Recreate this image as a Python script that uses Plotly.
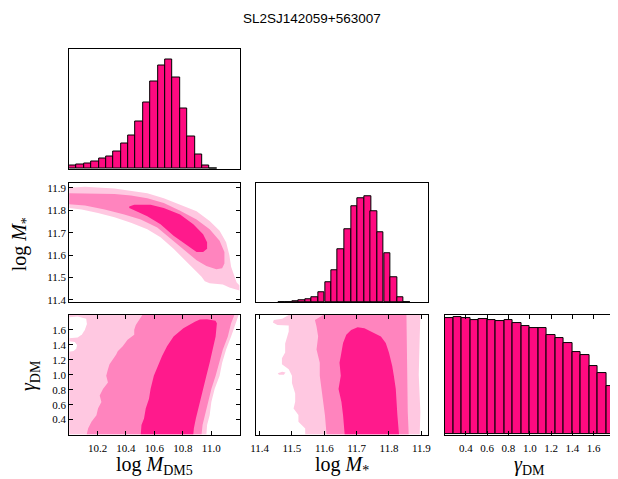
import plotly.graph_objects as go

TITLE = "SL2SJ142059+563007"

# ---------------- 1D histograms (bin centers, counts) ----------------
mdm_centers = [10.026, 10.078, 10.130, 10.182, 10.234, 10.286, 10.338, 10.390, 10.442, 10.494,
               10.546, 10.598, 10.650, 10.702, 10.754, 10.806, 10.858, 10.910, 10.962, 11.014]
mdm_counts = [9, 15, 18, 24, 31, 39, 53, 77, 103, 143, 202, 267, 315, 333, 279, 185, 98, 45, 11, 2]
mdm_binw = 0.052

mstar_centers = [11.469, 11.490, 11.510, 11.530, 11.551, 11.571, 11.591, 11.612, 11.632, 11.652,
                 11.673, 11.693, 11.713, 11.734, 11.754, 11.774, 11.795, 11.815, 11.835, 11.856]
mstar_counts = [1, 1, 3, 5, 8, 15, 30, 61, 99, 162, 224, 295, 319, 326, 279, 215, 150, 76, 14, 1]
mstar_binw = 0.0203

gam_centers = [0.24, 0.32, 0.40, 0.48, 0.56, 0.64, 0.72, 0.80, 0.88, 0.96,
               1.04, 1.12, 1.20, 1.28, 1.36, 1.44, 1.52, 1.60, 1.68, 1.76]
gam_counts = [357, 360, 357, 352, 354, 352, 349, 351, 340, 333, 325, 325, 306, 296, 279, 252, 243, 211, 187, 147]
gam_binw = 0.08

# ---------------- axis ranges & ticks ----------------
mdm_range = [10.0, 11.2]
mstar_range = [11.39, 11.92]
gam_range = [0.2, 1.8]
mdm_ticks = [10.2, 10.4, 10.6, 10.8, 11.0]
mdm_ticklabels = ["10.2", "10.4", "10.6", "10.8", "11.0"]
mstar_ticks = [11.4, 11.5, 11.6, 11.7, 11.8, 11.9]
mstar_ticklabels = ["11.4", "11.5", "11.6", "11.7", "11.8", "11.9"]
gam_ticks = [0.4, 0.6, 0.8, 1.0, 1.2, 1.4, 1.6]
gam_ticklabels = ["0.4", "0.6", "0.8", "1.0", "1.2", "1.4", "1.6"]

# ---------------- contour regions: log M_DM5 vs log M* ----------------
dm_ms_light_x = [10.0, 10.111, 10.319, 10.435, 10.55, 10.666, 10.781, 10.897, 10.989, 11.059, 11.105, 11.128,
                 11.14, 11.163, 11.179, 11.2, 11.2, 11.163, 11.128, 11.082, 11.036, 10.989, 10.955, 10.932,
                 10.897, 10.828, 10.735, 10.643, 10.55, 10.435, 10.319, 10.203, 10.088, 10.0]
dm_ms_light_y = [11.90, 11.904, 11.897, 11.885, 11.875, 11.853, 11.824, 11.795, 11.752, 11.708, 11.657, 11.599,
                 11.548, 11.504, 11.478, 11.464, 11.442, 11.449, 11.456, 11.469, 11.472, 11.475, 11.483, 11.504,
                 11.526, 11.57, 11.628, 11.679, 11.715, 11.744, 11.769, 11.788, 11.803, 11.81]
dm_ms_mid_x = [10.0, 10.111, 10.319, 10.435, 10.55, 10.666, 10.781, 10.897, 10.989, 11.059, 11.093, 11.093,
               11.077, 11.036, 10.966, 10.897, 10.828, 10.735, 10.62, 10.504, 10.388, 10.25, 10.111, 10.0]
dm_ms_mid_y = [11.875, 11.875, 11.872, 11.865, 11.853, 11.832, 11.798, 11.759, 11.715, 11.664, 11.614, 11.563,
               11.541, 11.537, 11.551, 11.577, 11.614, 11.664, 11.723, 11.759, 11.781, 11.803, 11.821, 11.827]
dm_ms_dark_x = [10.423, 10.458, 10.573, 10.666, 10.781, 10.874, 10.943, 10.971, 10.971, 10.943, 10.897,
                10.828, 10.735, 10.643, 10.55, 10.458, 10.423]
dm_ms_dark_y = [11.817, 11.824, 11.824, 11.81, 11.781, 11.737, 11.693, 11.657, 11.628, 11.614, 11.614,
                11.643, 11.686, 11.737, 11.773, 11.80, 11.81]

# ---------------- contour regions: log M_DM5 vs gamma_DM ----------------
dm_g_light_x = [10.0, 10.0, 11.193, 11.174, 11.14, 11.105, 11.077, 11.059, 11.024, 11.001, 10.989, 10.971, 10.966]
dm_g_light_y = [0.2, 1.8, 1.8, 1.69, 1.514, 1.338, 1.162, 0.986, 0.811, 0.635, 0.459, 0.327, 0.2]
dm_g_hole1_x = [10.0, 10.06, 10.12, 10.125, 10.11, 10.09, 10.06, 10.03, 10.0]
dm_g_hole1_y = [1.77, 1.78, 1.75, 1.68, 1.60, 1.54, 1.50, 1.49, 1.49]
dm_g_hole2_x = [10.0, 10.04, 10.055, 10.05, 10.03, 10.0]
dm_g_hole2_y = [1.45, 1.44, 1.40, 1.35, 1.32, 1.31]
dm_g_mid_x = [10.515, 10.492, 10.469, 10.458, 10.458, 10.411, 10.377, 10.342, 10.331, 10.307, 10.284, 10.273,
              10.261, 10.273, 10.238, 10.215, 10.227, 10.203, 10.192, 10.157, 10.134, 10.123,
              10.932, 10.939, 10.955, 10.978, 11.001, 11.031, 11.054, 11.082, 11.117, 11.14, 11.163]
dm_g_mid_y = [1.80, 1.734, 1.668, 1.602, 1.536, 1.47, 1.382, 1.316, 1.272, 1.206, 1.14, 1.074,
              0.986, 0.898, 0.811, 0.723, 0.635, 0.547, 0.459, 0.371, 0.283, 0.2,
              0.2, 0.327, 0.459, 0.635, 0.811, 0.986, 1.162, 1.338, 1.514, 1.69, 1.80]
dm_g_dark_x = [10.885, 10.804, 10.735, 10.689, 10.654, 10.631, 10.596, 10.573, 10.562, 10.539, 10.527, 10.509, 10.504,
               10.874, 10.878, 10.892, 10.908, 10.92, 10.943, 10.966, 10.989, 11.012, 11.031, 11.04, 11.03,
               10.97, 10.92]
dm_g_dark_y = [1.712, 1.624, 1.514, 1.382, 1.25, 1.14, 0.986, 0.811, 0.679, 0.547, 0.415, 0.327, 0.2,
               0.2, 0.283, 0.415, 0.547, 0.635, 0.811, 0.986, 1.162, 1.338, 1.514, 1.69, 1.725,
               1.743, 1.74]

# ---------------- contour regions: log M* vs gamma_DM ----------------
ms_g_light_x = [11.49, 11.47, 11.444, 11.441, 11.455, 11.49, 11.49, 11.485, 11.479, 11.479, 11.469, 11.469,
                11.49, 11.50, 11.50, 11.51, 11.51, 11.505, 11.52, 11.52, 11.541, 11.541,
                11.895, 11.897, 11.892, 11.895, 11.897]
ms_g_light_y = [1.80, 1.75, 1.734, 1.70, 1.668, 1.66, 1.58, 1.50, 1.42, 1.30, 1.22, 1.14,
                1.074, 0.986, 0.89, 0.75, 0.64, 0.55, 0.46, 0.37, 0.28, 0.2,
                0.2, 0.5, 1.0, 1.5, 1.8]
ms_g_island_x = [11.456, 11.47, 11.48, 11.475, 11.46]
ms_g_island_y = [1.02, 1.04, 1.03, 1.0, 1.0]
ms_g_mid_x = [11.597, 11.571, 11.576, 11.581, 11.576, 11.586, 11.586, 11.591, 11.597, 11.602, 11.607,
              11.861, 11.858, 11.856, 11.855, 11.854]
ms_g_mid_y = [1.8, 1.734, 1.646, 1.514, 1.338, 1.162, 0.986, 0.811, 0.635, 0.459, 0.2,
              0.2, 0.5, 1.0, 1.5, 1.8]
ms_g_dark_x = [11.703, 11.683, 11.668, 11.658, 11.651, 11.647, 11.651, 11.644, 11.653, 11.658, 11.663,
               11.831, 11.826, 11.824, 11.821, 11.815, 11.81, 11.80, 11.79, 11.775, 11.744, 11.724]
ms_g_dark_y = [1.637, 1.60, 1.536, 1.426, 1.25, 1.162, 0.986, 0.811, 0.635, 0.459, 0.2,
               0.2, 0.459, 0.635, 0.811, 0.986, 1.118, 1.294, 1.426, 1.514, 1.58, 1.624]

# ---------------- styling ----------------
# page body has an 8px margin, so the figure is laid out 8px smaller and shifted
OFF = 8
W, H = 618 - OFF, 479 - OFF
HIST_COLOR = "#FF0A80"
LIGHT = "#FFC8E1"
MID = "#FF84BE"
DARK = "#FF1A8C"
WHITE = "#FFFFFF"
SERIF = "Liberation Serif"

cols = [(64, 237), (254, 428), (445, 618)]
rows = [(47, 169), (183.5, 304), (317, 438)]


def px(v):
    return (v - OFF) / W


def py(v):
    return 1 - (v - OFF) / H


def xd(c):
    return [px(cols[c][0]), min(1.0, px(cols[c][1]))]


def yd(r):
    return [py(rows[r][1]), py(rows[r][0])]


fig = go.Figure()


def hist(centers, counts, width, ax):
    fig.add_trace(go.Bar(x=centers, y=counts, width=width, xaxis="x" + ax, yaxis="y" + ax,
                         marker=dict(color=HIST_COLOR, line=dict(color="black", width=1)),
                         showlegend=False, hoverinfo="skip"))


def region(xs, ys, color, ax):
    fig.add_trace(go.Scatter(x=xs + [xs[0]], y=ys + [ys[0]], mode="lines", fill="toself",
                             fillcolor=color, line=dict(width=0, color=color),
                             xaxis="x" + ax, yaxis="y" + ax, showlegend=False, hoverinfo="skip"))


hist(mdm_centers, mdm_counts, mdm_binw, "")
region(dm_ms_light_x, dm_ms_light_y, LIGHT, "2")
region(dm_ms_mid_x, dm_ms_mid_y, MID, "2")
region(dm_ms_dark_x, dm_ms_dark_y, DARK, "2")
region(dm_g_light_x, dm_g_light_y, LIGHT, "3")
region(dm_g_hole1_x, dm_g_hole1_y, WHITE, "3")
region(dm_g_hole2_x, dm_g_hole2_y, WHITE, "3")
region(dm_g_mid_x, dm_g_mid_y, MID, "3")
region(dm_g_dark_x, dm_g_dark_y, DARK, "3")
hist(mstar_centers, mstar_counts, mstar_binw, "4")
region(ms_g_light_x, ms_g_light_y, LIGHT, "5")
region(ms_g_island_x, ms_g_island_y, LIGHT, "5")
region(ms_g_mid_x, ms_g_mid_y, MID, "5")
region(ms_g_dark_x, ms_g_dark_y, DARK, "5")
hist(gam_centers, gam_counts, gam_binw, "6")

tickfont = dict(family=SERIF, size=11, color="black")
base = dict(showline=True, linecolor="black", linewidth=1, mirror=True, showgrid=False,
            zeroline=False, ticklen=4, tickwidth=1, tickcolor="black", tickfont=tickfont, fixedrange=True)


def ax(domain, rng, anchor, ticks=None, labels=None, show_labels=False, standoff=None):
    d = dict(base)
    d.update(domain=domain, range=rng, anchor=anchor, autorange=False)
    if ticks is None:
        d.update(ticks="", showticklabels=False)
    else:
        d.update(ticks="inside", mirror="ticks", tickvals=ticks, ticktext=labels,
                 showticklabels=show_labels)
    if standoff is not None:
        d.update(ticklabelstandoff=standoff)
    return d


fig.update_layout(
    width=W, height=H, margin=dict(l=0, r=0, t=0, b=0),
    paper_bgcolor="white", plot_bgcolor="white", bargap=0,
    xaxis=ax(xd(0), mdm_range, "y"),
    yaxis=ax(yd(0), [0, 366], "x"),
    xaxis2=ax(xd(0), mdm_range, "y2"),
    yaxis2=ax(yd(1), mstar_range, "x2", mstar_ticks, mstar_ticklabels, True),
    xaxis3=ax(xd(0), mdm_range, "y3", mdm_ticks, mdm_ticklabels, True, 3),
    yaxis3=ax(yd(2), gam_range, "x3", gam_ticks, gam_ticklabels, True),
    xaxis4=ax(xd(1), mstar_range, "y4"),
    yaxis4=ax(yd(1), [0, 366], "x4"),
    xaxis5=ax(xd(1), mstar_range, "y5", mstar_ticks, mstar_ticklabels, True, 3),
    yaxis5=ax(yd(2), gam_range, "x5"),
    xaxis6=ax(xd(2), gam_range, "y6", gam_ticks, gam_ticklabels, True, 3),
    yaxis6=ax(yd(2), [0, 366], "x6"),
)

tfont = dict(family=SERIF, size=20, color="black")
ann = [
    dict(text=TITLE, x=px(310), y=py(17), font=dict(family="Liberation Sans", size=13.5, color="black")),
    dict(text="log <i>M</i><sub>DM5</sub>", x=px(150.5), y=py(469), font=tfont),
    dict(text="log <i>M</i><sub>*</sub>", x=px(341), y=py(469), font=tfont),
    dict(text="<i>γ</i><sub>DM</sub>", x=px(531), y=py(469), font=tfont),
    dict(text="log <i>M</i><sub>*</sub>", x=px(15.5), y=py(245), font=tfont, textangle=-90),
    dict(text="<i>γ</i><sub>DM</sub>", x=px(24), y=py(378), font=tfont, textangle=-90),
]
for a in ann:
    a.update(xref="paper", yref="paper", showarrow=False, xanchor="center", yanchor="middle")
fig.update_layout(annotations=ann)

fig.write_html("out.html")
